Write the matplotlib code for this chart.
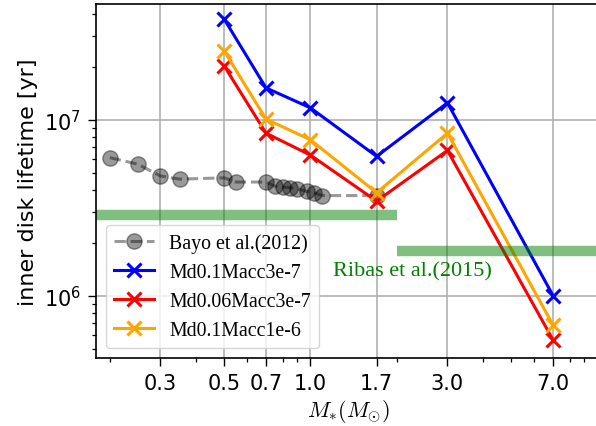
import numpy as np
import matplotlib
matplotlib.use('Agg')
import matplotlib.pyplot as plt
from matplotlib.ticker import NullFormatter

# stellar masses of the models
mass = [0.5, 0.7, 1.0, 1.7, 3.0, 7.0]
t_md01_acc3e7 = [3.75e7, 1.52e7, 1.17e7, 6.2e6, 1.25e7, 1.0e6]
t_md006_acc3e7 = [2.03e7, 8.4e6, 6.3e6, 3.45e6, 6.7e6, 5.6e5]
t_md01_acc1e6 = [2.47e7, 1.01e7, 7.7e6, 3.85e6, 8.4e6, 6.8e5]

# Bayo et al. (2012)
bayo_mass = [0.2, 0.25, 0.3, 0.35, 0.5, 0.55, 0.7, 0.75, 0.8, 0.85, 0.9, 0.97, 1.03, 1.1, 1.7]
bayo_t = [6.1e6, 5.6e6, 4.8e6, 4.6e6, 4.68e6, 4.43e6, 4.43e6, 4.2e6, 4.15e6, 4.12e6,
          4.05e6, 3.92e6, 3.85e6, 3.71e6, 3.71e6]

# Ribas et al. (2015)
ribas_low = [2.88e6, 0.1, 2.0]
ribas_high = [1.80e6, 2.0, 20.0]

xticks = [0.3, 0.5, 0.7, 1.0, 1.7, 3.0, 7.0]
xticklabels = ['0.3', '0.5', '0.7', '1.0', '1.7', '3.0', '7.0']

fig = plt.figure(figsize=(5.96, 4.27), dpi=100)
ax = fig.add_axes([96/596, 1 - 358.5/427, 504/596, 353.5/427])

ax.plot(bayo_mass, bayo_t, '--o', color='k', alpha=0.4, lw=2.2, ms=11, label='Bayo et al.(2012)')
ax.plot(mass, t_md01_acc3e7, '-x', color='blue', lw=2.2, ms=10, mew=2.2, label='Md0.1Macc3e-7')
ax.plot(mass, t_md006_acc3e7, '-x', color='red', lw=2.2, ms=10, mew=2.2, label='Md0.06Macc3e-7')
ax.plot(mass, t_md01_acc1e6, '-x', color='orange', lw=2.2, ms=10, mew=2.2, label='Md0.1Macc1e-6')

ax.hlines(ribas_low[0], ribas_low[1], ribas_low[2], color='green', alpha=0.5, lw=7.5)
ax.hlines(ribas_high[0], ribas_high[1], ribas_high[2], color='green', alpha=0.5, lw=7.5)
ax.text(1.2, 1.39e6, 'Ribas et al.(2015)', color='green', fontsize=16,
        family='Liberation Serif', va='center')

ax.set_xscale('log')
ax.set_yscale('log')
ax.set_xlim(0.179, 10.2)
ax.set_ylim(4.45e5, 4.56e7)
ax.set_xticks(xticks)
ax.set_xticklabels(xticklabels)
ax.xaxis.set_minor_formatter(NullFormatter())
ax.tick_params(which='major', labelsize=15, length=5.8, width=1.0, pad=5)
ax.tick_params(which='minor', length=3.1, width=0.9)
for s in ax.spines.values():
    s.set_linewidth(1.2)
ax.grid(True, which='major', color='#b0b0b0', lw=1.2)

ax.set_ylabel('inner disk lifetime [yr]', fontsize=16)
ax.set_xlabel(r'$M_{*}(M_{\odot})$', fontsize=16, math_fontfamily='cm', labelpad=3.5)

ax.legend(loc='lower left', prop={'family': 'Liberation Serif', 'size': 14.3})

fig.savefig('out.png', dpi=100)
